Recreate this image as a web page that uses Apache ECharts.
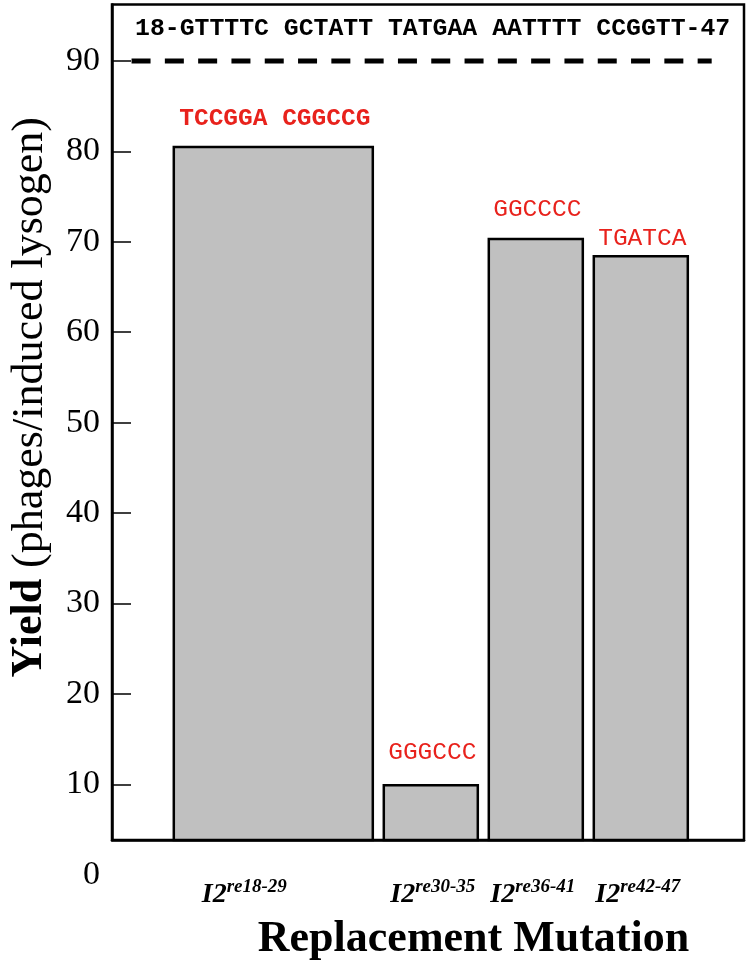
<!DOCTYPE html>
<html><head><meta charset="utf-8">
<script src="https://cdn.jsdelivr.net/npm/echarts@6/dist/echarts.min.js"></script>
<style>html,body{margin:0;padding:0;background:#fff}#c{width:750px;height:969px}</style>
</head><body><div id="c"></div>
<script>
// ---- data ----
const mutationRanges = ['18-29', '30-35', '36-41', '42-47'];
const rangeStart = [18, 30, 36, 42];
const rangeEnd = [29, 35, 41, 47];
const yields = [80.5, 9.9, 70.3, 68.4];
const motifs = ['TCCGGA CGGCCG', 'GGGCCC', 'GGCCCC', 'TGATCA'];
const motifBold = [true, false, false, false];
const wildTypeSeq = '18-GTTTTC GCTATT TATGAA AATTTT CCGGTT-47';
const wildTypeYield = 90;
const wildTypeSpan = [15.9, 49.05];
const yTickValues = [0, 10, 20, 30, 40, 50, 60, 70, 80, 90];

// ---- layout / style ----
const yMin = 3.84, yMax = 96.25;
const xMin = 14.783, xMax = 50.897;
const motifLift = [28.5, 33, 30, 17.5];
const labelShift = [-29, 2, -3, -3];
const SERIF = 'Liberation Serif';
const MONO = 'Liberation Mono';
const RED = '#e8221c';

const barData = rangeStart.map((s, i) => [s, rangeEnd[i], yields[i]]);

const chart = echarts.init(document.getElementById('c'), null, {renderer: 'canvas'});
chart.setOption({
  animation: false,
  backgroundColor: '#fff',
  title: {
    text: wildTypeSeq, left: 135, top: 16, padding: 0,
    textStyle: {fontFamily: MONO, fontWeight: 'bold', fontSize: 24.8, color: '#000'}
  },
  grid: [
    {left: 112, right: 6, top: 4.5, bottom: 129, show: true, borderColor: '#000', borderWidth: 2.5, backgroundColor: 'transparent'},
    {left: 112, right: 6, top: 4.5, bottom: 94.3, show: false}
  ],
  xAxis: [
    {
      type: 'value', gridIndex: 0, min: xMin, max: xMax,
      axisLine: {show: true, lineStyle: {color: '#000', width: 2.5}},
      axisTick: {show: false}, axisLabel: {show: false}, splitLine: {show: false},
      name: 'Replacement Mutation', nameLocation: 'middle', nameGap: 78,
      nameTextStyle: {fontFamily: SERIF, fontWeight: 'bold', fontSize: 44, color: '#000', padding: [0, 0, 0, 91]}
    },
    {type: 'value', gridIndex: 1, min: xMin, max: xMax, show: false}
  ],
  yAxis: [
    {
      type: 'value', gridIndex: 0, min: yMin, max: yMax,
      axisLine: {show: true, lineStyle: {color: '#000', width: 2.5}},
      axisTick: {show: true, inside: true, length: 19, lineStyle: {color: '#000', width: 1.5},
                 customValues: yTickValues.filter(v => v >= yMin)},
      axisLabel: {show: true, margin: 12, fontFamily: SERIF, fontSize: 34, color: '#000',
                  customValues: yTickValues.filter(v => v >= yMin)},
      splitLine: {show: false},
      name: '{b|Yield} (phages/induced lysogen)', nameLocation: 'middle', nameGap: 60, nameRotate: 90,
      nameTextStyle: {fontFamily: SERIF, fontSize: 44, color: '#000', padding: [0, 0, 0, 50],
                      rich: {b: {fontFamily: SERIF, fontSize: 44, fontWeight: 'bold', color: '#000'}}}
    },
    {
      type: 'value', gridIndex: 1, min: 0, max: yMax,
      axisLine: {show: false}, axisTick: {show: false}, splitLine: {show: false},
      axisLabel: {show: true, margin: 12, fontFamily: SERIF, fontSize: 34, color: '#000',
                  customValues: yTickValues.filter(v => v < yMin)}
    }
  ],
  series: [
    {
      type: 'custom', xAxisIndex: 0, yAxisIndex: 0,
      data: barData,
      clip: false,
      renderItem: function (params, api) {
        const i = params.dataIndex;
        const s = api.value(0), e = api.value(1), v = api.value(2);
        const tl = api.coord([s, v]);
        const br = api.coord([e + 1, yMin]);
        const inset = 5.5;
        const x0 = tl[0] + inset, x1 = br[0] - inset;
        const cx = (x0 + x1) / 2;
        return {
          type: 'group',
          children: [
            {type: 'rect', shape: {x: x0, y: tl[1], width: x1 - x0, height: br[1] - tl[1]},
             style: {fill: '#c0c0c0', stroke: '#000', lineWidth: 2.5}},
            {type: 'text', x: cx + 1.5, y: tl[1] - motifLift[i],
             style: {text: motifs[i], fill: RED, fontFamily: MONO, fontSize: 24.5,
                     fontWeight: motifBold[i] ? 'bold' : 'normal', align: 'center', verticalAlign: 'middle'}},
            {type: 'text', x: cx + labelShift[i], y: br[1] + 54.5,
             style: {text: '{a|I2}{b|re' + mutationRanges[i] + '}', align: 'center', verticalAlign: 'middle',
                     rich: {
                       a: {fontFamily: SERIF, fontSize: 28, fontWeight: 'bold', fontStyle: 'italic', fill: '#000', lineHeight: 34, verticalAlign: 'middle'},
                       b: {fontFamily: SERIF, fontSize: 19, fontWeight: 'bold', fontStyle: 'italic', fill: '#000', lineHeight: 22, verticalAlign: 'top'}
                     }}}
          ]
        };
      }
    },
    {
      type: 'line', xAxisIndex: 0, yAxisIndex: 0,
      data: wildTypeSpan.map(x => [x, wildTypeYield]),
      symbol: 'none', silent: true,
      lineStyle: {color: '#000', width: 5, type: [19, 14.3], cap: 'butt'}
    }
  ]
});
</script>
</body></html>
